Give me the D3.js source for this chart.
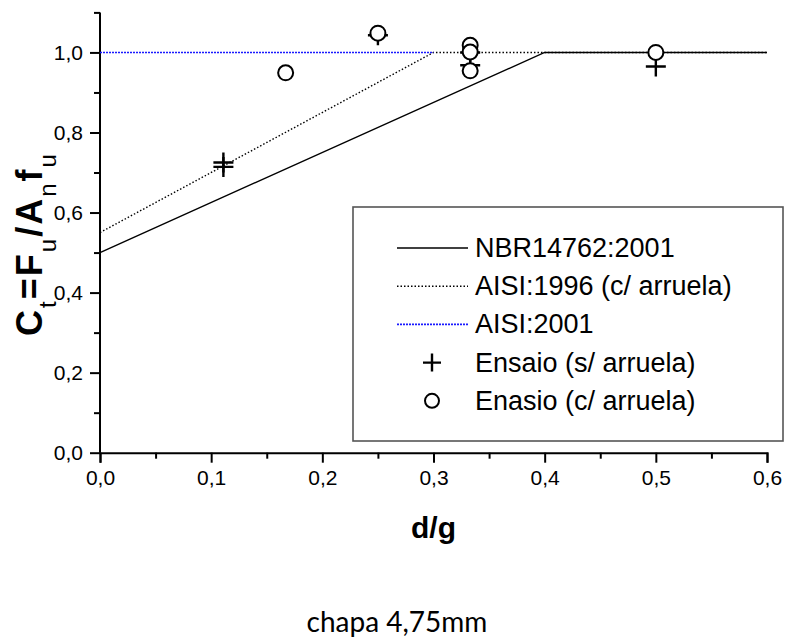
<!DOCTYPE html>
<html>
<head>
<meta charset="utf-8">
<script src="https://cdn.jsdelivr.net/npm/d3@7"></script>
<style>
  html, body { margin: 0; padding: 0; background: #fff; }
  svg { display: block; }
  text { font-family: "Liberation Sans", Arial, sans-serif; fill: #000; }
</style>
</head>
<body>
<svg id="chart" width="786" height="641"></svg>
<script>
// Design curves (d/g vs Ct)
const nbrX = [0, 0.4, 0.6];
const nbrY = [0.5, 1.0, 1.0];
const aisi96X = [0, 0.3, 0.6];
const aisi96Y = [0.55, 1.0, 1.0];
const aisi01X = [0, 0.3];
const aisi01Y = [1.0, 1.0];

// Test results
const semArruelaX = [0.111, 0.111, 0.25, 0.333, 0.333, 0.5];
const semArruelaY = [0.725, 0.714, 1.043, 1.0, 0.968, 0.965];
const comArruelaX = [0.167, 0.25, 0.333, 0.333, 0.333, 0.5];
const comArruelaY = [0.949, 1.048, 1.018, 1.001, 0.954, 1.0];

// Axis ticks
const xMajor = [0, 0.1, 0.2, 0.3, 0.4, 0.5, 0.6];
const xMinor = [0.05, 0.15, 0.25, 0.35, 0.45, 0.55];
const yMajor = [0, 0.2, 0.4, 0.6, 0.8, 1.0];
const yMinor = [0.1, 0.3, 0.5, 0.7, 0.9, 1.1];

const legendLabels = ["NBR14762:2001", "AISI:1996 (c/ arruela)", "AISI:2001",
                      "Ensaio (s/ arruela)", "Enasio (c/ arruela)"];

const svg = d3.select("#chart");
const x = d3.scaleLinear().domain([0, 0.6]).range([100, 767]);
const y = d3.scaleLinear().domain([0, 1.1]).range([452.7, 12.4]);
const fmt = v => d3.format(".1f")(v).replace(".", ",");

// Axes
const gx = svg.append("g").attr("transform", `translate(0,${y(0)})`);
gx.call(d3.axisBottom(x).tickValues(xMajor).tickSize(10).tickPadding(7).tickFormat(fmt));
const gxm = svg.append("g").attr("transform", `translate(0,${y(0)})`);
gxm.call(d3.axisBottom(x).tickValues(xMinor).tickSize(6).tickFormat(""));

const gy = svg.append("g").attr("transform", `translate(${x(0)},0)`);
gy.call(d3.axisLeft(y).tickValues(yMajor).tickSize(10).tickPadding(7).tickFormat(fmt));
const gym = svg.append("g").attr("transform", `translate(${x(0)},0)`);
gym.call(d3.axisLeft(y).tickValues(yMinor).tickSize(6).tickFormat(""));

[gx, gxm, gy, gym].forEach(g => {
  g.selectAll(".domain").attr("stroke", "#000").attr("stroke-width", 2);
  g.selectAll(".tick line").attr("stroke", "#000").attr("stroke-width", 2);
  g.selectAll(".tick text").attr("font-size", 21)
    .attr("font-family", "'Liberation Sans', Arial, sans-serif").attr("fill", "#000");
});
gxm.select(".domain").remove();
gym.select(".domain").remove();
gy.select(".domain").attr("d", `M0,${y(1.1)}V${y(0)}`);

// Axis titles
svg.append("text")
  .attr("x", (x(0) + x(0.6)) / 2).attr("y", 538)
  .attr("text-anchor", "middle").attr("font-size", 30).attr("font-weight", "bold")
  .text("d/g");

const yt = svg.append("text")
  .attr("transform", "translate(42,244) rotate(-90)")
  .attr("text-anchor", "middle").attr("font-size", 36).attr("font-weight", "bold")
  .attr("letter-spacing", 2);
[["C", false], ["t", true], ["=F", false], ["u", true], ["/A", false], ["n", true], ["f", false], ["u", true]]
  .forEach(([s, sub], i) => {
    const t = yt.append("tspan").text(s);
    if (sub) t.attr("font-size", 24).attr("font-weight", "normal").attr("dy", 14);
    else if (i > 0) t.attr("dy", -14);
  });

// Design curves
const line = d3.line().x(d => x(d[0])).y(d => y(d[1]));
const curves = [
  { xs: nbrX, ys: nbrY, stroke: "#000", dash: null, w: 1.4 },
  { xs: aisi96X, ys: aisi96Y, stroke: "#000", dash: "1.5,2", w: 1.4 },
  { xs: aisi01X, ys: aisi01Y, stroke: "#1a1aff", dash: "2,1", w: 1.6 }
];
curves.forEach(c => {
  svg.append("path")
    .attr("d", line(d3.zip(c.xs, c.ys)))
    .attr("fill", "none").attr("stroke", c.stroke).attr("stroke-width", c.w)
    .attr("stroke-dasharray", c.dash);
});

// Markers
const plus = (g, cx, cy, h) => {
  g.append("path").attr("d", `M${cx - h},${cy}H${cx + h}M${cx},${cy - h}V${cy + h}`)
    .attr("stroke", "#000").attr("stroke-width", 2.4).attr("fill", "none");
};
const pg = svg.append("g");
d3.zip(semArruelaX, semArruelaY).forEach(([a, b]) => plus(pg, x(a), y(b), 10));
svg.append("g").selectAll("circle").data(d3.zip(comArruelaX, comArruelaY)).join("circle")
  .attr("cx", d => x(d[0])).attr("cy", d => y(d[1])).attr("r", 7.5)
  .attr("fill", "#fff").attr("stroke", "#000").attr("stroke-width", 2);

// Legend
const lg = svg.append("g");
lg.append("rect").attr("x", 353).attr("y", 207).attr("width", 430).attr("height", 234)
  .attr("fill", "#fff").attr("stroke", "#555").attr("stroke-width", 1.6);
legendLabels.forEach((lab, i) => {
  const base = 257 + 38.2 * i;
  const cy = base - 9;
  if (i < 3) {
    const c = curves[i];
    lg.append("line").attr("x1", 397).attr("x2", 468).attr("y1", cy).attr("y2", cy)
      .attr("stroke", c.stroke).attr("stroke-width", c.w).attr("stroke-dasharray", c.dash);
  } else if (i === 3) {
    plus(lg, 432, cy, 9);
  } else {
    lg.append("circle").attr("cx", 432).attr("cy", cy).attr("r", 7)
      .attr("fill", "#fff").attr("stroke", "#000").attr("stroke-width", 2);
  }
  lg.append("text").attr("x", 475).attr("y", base).attr("font-size", 27).text(lab);
});

// Caption
svg.append("text").attr("x", 397).attr("y", 632).attr("text-anchor", "middle")
  .attr("font-size", 28).style("font-family", "'Century Gothic', 'URW Gothic', Lato, 'Open Sans', sans-serif")
  .text("chapa 4,75mm");
</script>
</body>
</html>
